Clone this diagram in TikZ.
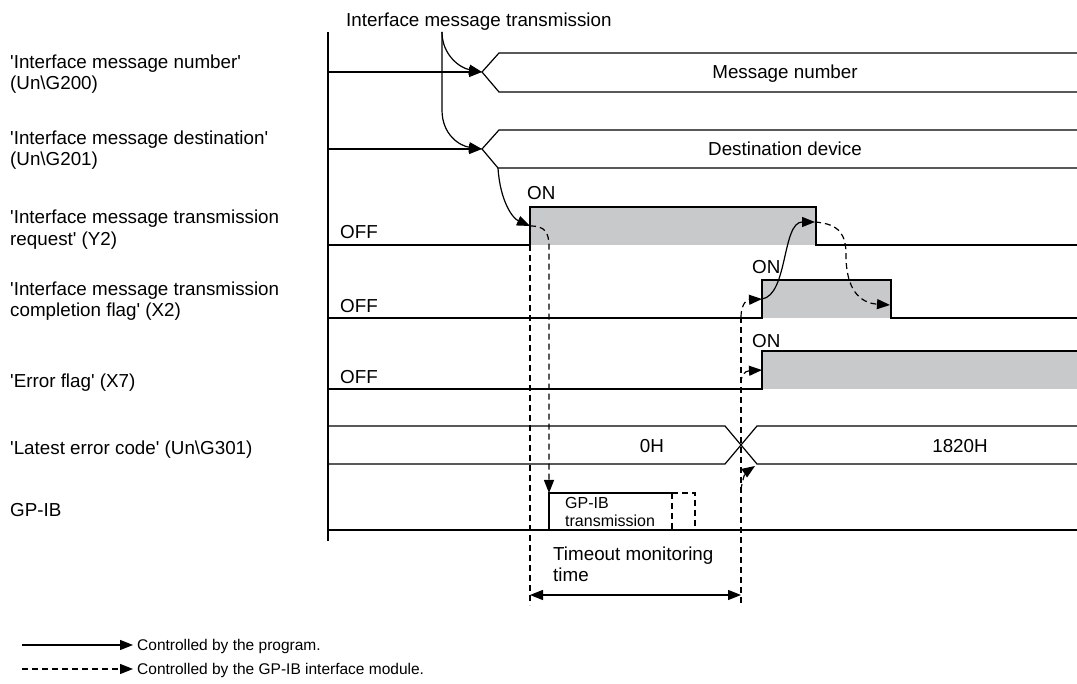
\documentclass[tikz,border=0pt]{standalone}
\usepackage{fontspec}
\setmainfont{Liberation Sans}
\usetikzlibrary{arrows.meta}
\definecolor{onfill}{RGB}{200,201,202}
\newcommand{\sq}{\textquotesingle}

\begin{document}
\begin{tikzpicture}[x=1pt,y=1pt,
  sig/.style={line width=1.2pt},
  prog/.style={sig,-{Triangle[length=13pt,width=10pt]}},
  gpib/.style={prog,dash pattern=on 6pt off 4pt},
  lbl/.style={anchor=base west,inner sep=0pt,font=\fontsize{18.8}{21}\selectfont},
  lblc/.style={lbl,anchor=base},
  small/.style={lbl,font=\fontsize{16}{18}\selectfont},
  legend/.style={lbl,font=\fontsize{15.5}{18}\selectfont}]
\useasboundingbox (0,0) rectangle (1077,-684);
% signal names
\node[lbl] (n1a) at (10,-69) {\sq Interface message number\sq};
\node[lbl] (n1b) at (10,-90) {(Un\textbackslash G200)};
\node[lbl] (n2a) at (10,-145) {\sq Interface message destination\sq};
\node[lbl] (n2b) at (10,-166) {(Un\textbackslash G201)};
\node[lbl] (n3a) at (10,-224) {\sq Interface message transmission};
\node[lbl] (n3b) at (10,-246) {request\sq{} (Y2)};
\node[lbl] (n4a) at (10,-296) {\sq Interface message transmission};
\node[lbl] (n4b) at (10,-317) {completion flag\sq{} (X2)};
\node[lbl] (n5) at (10,-388) {\sq Error flag\sq{} (X7)};
\node[lbl] (n6) at (10,-455) {\sq Latest error code\sq{} (Un\textbackslash G301)};
\node[lbl] (n7) at (10,-517) {GP-IB};
\node[lbl] (imt) at (346,-27) {Interface message transmission};
% axis
\draw[sig] (328,-32) -- (328,-541);
% points
\coordinate (imtTop) at (442,-32);
\coordinate (mnTip) at (482,-72);
\coordinate (mdTip) at (482,-149);
\coordinate (mdLow) at (498,-168);
\coordinate (y2On) at (530,-226);
\coordinate (y2Off) at (815,-222);
\coordinate (x2On) at (762,-299);
\coordinate (x2Off) at (890,-305);
\coordinate (x7On) at (762,-370);
\coordinate (gpOn) at (549,-493);
\coordinate (errX) at (755,-466);
\coordinate (toL) at (530,-595);
\coordinate (toR) at (741,-595);
% message number
\draw[sig] (1077,-53) -- (499,-53) -- (mnTip) -- (499,-92) -- (1077,-92);
\draw[prog] (328,-72) -- (mnTip);
\node[lblc] (mnum) at (785,-79) {Message number};
% destination
\draw[sig] (1077,-130) -- (499,-130) -- (mdTip) -- (mdLow) -- (1077,-168);
\draw[prog] (328,-149) -- (mdTip);
\node[lblc] (mdst) at (785,-156) {Destination device};
% Y2
\fill[onfill] (530,-207) rectangle (816,-245);
\draw[sig] (328,-245) -- (530,-245) -- (530,-207) -- (816,-207) -- (816,-245) -- (1077,-245);
\node[lbl] (off1) at (340,-239) {OFF};
\node[lbl] (on1) at (527,-200) {ON};
% X2
\fill[onfill] (762,-280) rectangle (891,-318);
\draw[sig] (328,-318) -- (762,-318) -- (762,-280) -- (891,-280) -- (891,-318) -- (1077,-318);
\node[lbl] (off2) at (340,-313) {OFF};
\node[lbl] (on2) at (752,-274) {ON};
% X7
\fill[onfill] (762,-351) rectangle (1077,-389);
\draw[sig] (328,-389) -- (762,-389) -- (762,-351) -- (1077,-351);
\node[lbl] (off3) at (340,-384) {OFF};
\node[lbl] (on3) at (752,-348) {ON};
% error code
\draw[sig] (328,-426) -- (725,-426) -- (757,-464) -- (1077,-464);
\draw[sig] (328,-464) -- (725,-464) -- (757,-426) -- (1077,-426);
\node[lblc] (err0) at (652,-453) {0H};
\node[lblc] (err1) at (960,-453) {1820H};
% GP-IB
\draw[sig] (328,-530) -- (1077,-530);
\draw[sig] (549,-530) -- (gpOn) -- (672,-493);
\draw[sig,dash pattern=on 6pt off 4pt] (672,-493) -- (695,-493) -- (695,-530);
\draw[sig,dash pattern=on 6pt off 4pt] (672,-493) -- (672,-530);
\node[small] (gpa) at (565,-508) {GP-IB};
\node[small] (gpb) at (565,-526) {transmission};
% program arrows
\draw[prog] (imtTop) .. controls (442,-55) and (460,-68) .. (mnTip);
\draw[prog] (imtTop) -- (442,-110) .. controls (442,-135) and (460,-146) .. (mdTip);
\draw[prog] (mdLow) .. controls (500,-200) and (512,-218) .. (y2On);
\draw[prog] (x2On) .. controls (788,-295) and (782,-222) .. (y2Off);
% module arrows
\draw[gpib] (y2On) .. controls (545,-226) and (549,-232) .. (549,-247) -- (gpOn);
\draw[sig,dash pattern=on 6pt off 4pt] (530,-245) -- (530,-605);
\draw[sig,dash pattern=on 6pt off 4pt] (741,-317) -- (741,-605);
\draw[gpib] (741,-317) .. controls (741,-307) and (745,-300) .. (x2On);
\draw[gpib] (741,-383) .. controls (741,-375) and (745,-371) .. (x7On);
\draw[gpib] (741,-490) .. controls (742,-480) and (746,-472) .. (errX);
\draw[gpib] (y2Off) .. controls (840,-224) and (846,-235) .. (846,-255)
  .. controls (846,-290) and (860,-303) .. (x2Off);
% timeout
\draw[sig,{Triangle[length=13pt,width=10pt]}-{Triangle[length=13pt,width=10pt]}] (toL) -- (toR);
\node[lbl] (toa) at (553,-560) {Timeout monitoring};
\node[lbl] (tob) at (553,-581) {time};
% legend
\coordinate (lg1) at (22,-645);
\coordinate (lg1e) at (133,-645);
\coordinate (lg2) at (22,-669);
\coordinate (lg2e) at (133,-669);
\draw[prog] (lg1) -- (lg1e);
\draw[gpib] (lg2) -- (lg2e);
\node[legend] (lga) at (137,-650.5) {Controlled by the program.};
\node[legend] (lgb) at (137,-674.5) {Controlled by the GP-IB interface module.};
\end{tikzpicture}
\end{document}
